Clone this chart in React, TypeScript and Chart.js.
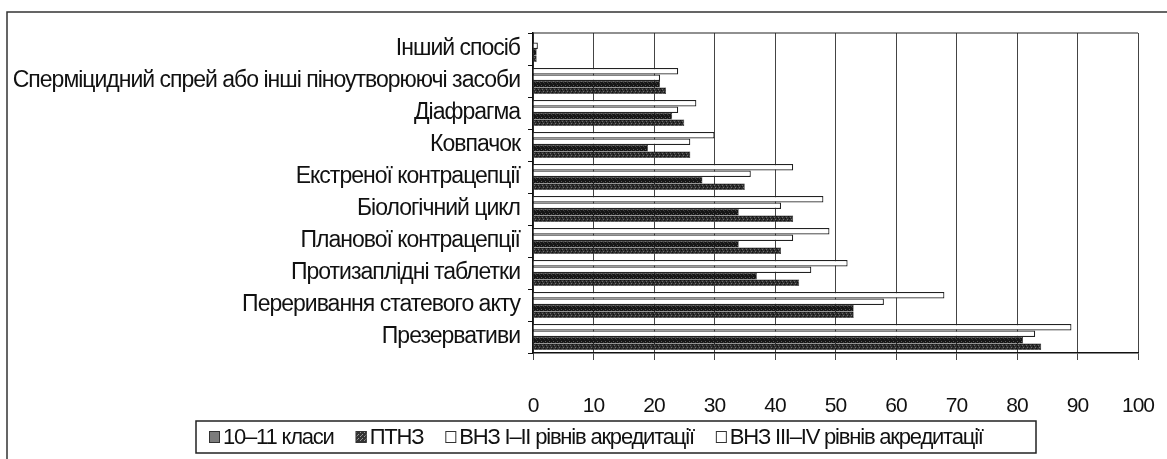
import React, { useEffect, useRef } from 'react';
import { Chart, registerables } from 'chart.js';

Chart.register(...registerables);

// Categories, listed top to bottom as they appear in the chart
const categories = [
  'Інший спосіб',
  'Сперміцидний спрей або інші піноутворюючі засоби',
  'Діафрагма',
  'Ковпачок',
  'Екстреної контрацепції',
  'Біологічний цикл',
  'Планової контрацепції',
  'Протизаплідні таблетки',
  'Переривання статевого акту',
  'Презервативи',
];

const seriesNames = [
  '10–11 класи',
  'ПТНЗ',
  'ВНЗ І–ІІ рівнів акредитації',
  'ВНЗ ІІІ–IV рівнів акредитації',
];

const school1011 = [0.6, 22, 25, 26, 35, 43, 41, 44, 53, 84];
const ptnz = [0.6, 21, 23, 19, 28, 34, 34, 37, 53, 81];
const vnz12 = [0.8, 21, 24, 26, 36, 41, 43, 46, 58, 83];
const vnz34 = [0, 24, 27, 30, 43, 48, 49, 52, 68, 89];

const xTickValues = [0, 10, 20, 30, 40, 50, 60, 70, 80, 90, 100];

const FONT = "'Liberation Sans', Arial, sans-serif";

function makePattern(base: string, pixels: [number, number, string][]) {
  const c = document.createElement('canvas');
  c.width = 4;
  c.height = 4;
  const g = c.getContext('2d')!;
  g.fillStyle = base;
  g.fillRect(0, 0, 4, 4);
  for (const [x, y, col] of pixels) {
    g.fillStyle = col;
    g.fillRect(x, y, 1, 1);
  }
  return g.createPattern(c, 'repeat')!;
}

export default function App() {
  const ref = useRef<HTMLCanvasElement | null>(null);

  useEffect(() => {
    if (!ref.current) return;
    const schoolPat = makePattern('#2e2e2e', [
      [0, 0, '#111'], [2, 1, '#6a6a6a'], [1, 2, '#0c0c0c'], [3, 3, '#707070'],
    ]);
    const ptnzPat = makePattern('#161616', [
      [1, 1, '#5a5a5a'], [3, 2, '#444'], [0, 3, '#333'],
    ]);

    const legendSwatches: Record<string, any> = {
      [seriesNames[0]]: '#7c7c7c',
      [seriesNames[1]]: makePattern('#333', [[0, 0, '#999'], [2, 2, '#999'], [1, 3, '#888']]),
      [seriesNames[2]]: '#ffffff',
      [seriesNames[3]]: '#ffffff',
    };

    const framePlugin = {
      id: 'frame',
      beforeDraw(chart: any) {
        const ctx = chart.ctx;
        ctx.letterSpacing = '-1px';
        ctx.save();
        ctx.fillStyle = '#fff';
        ctx.fillRect(0, 0, chart.width, chart.height);
        ctx.strokeStyle = '#333';
        ctx.lineWidth = 1.5;
        ctx.beginPath();
        ctx.moveTo(7, chart.height + 5);
        ctx.lineTo(7, 12);
        ctx.lineTo(chart.width + 5, 12);
        ctx.stroke();
        ctx.restore();
      },
      afterDraw(chart: any) {
        const ctx = chart.ctx;
        const a = chart.chartArea;
        ctx.save();
        ctx.strokeStyle = '#222';
        ctx.lineWidth = 1.2;
        ctx.beginPath();
        ctx.moveTo(a.left, a.top);
        ctx.lineTo(a.right, a.top);
        ctx.stroke();

        // boxed legend
        const x0 = 196, y0 = 421, w = 840, h = 32;
        ctx.strokeStyle = '#222';
        ctx.lineWidth = 1.5;
        ctx.strokeRect(x0, y0, w, h);
        ctx.font = `22px ${FONT}`;
        ctx.textBaseline = 'middle';
        ctx.textAlign = 'left';
        ctx.letterSpacing = '-1.2px';
        const cy = y0 + h / 2;
        let x = x0 + 13;
        for (const name of seriesNames) {
          ctx.fillStyle = legendSwatches[name];
          ctx.fillRect(x, cy - 6, 11, 12);
          ctx.strokeStyle = '#333';
          ctx.lineWidth = 1;
          ctx.strokeRect(x + 0.5, cy - 5.5, 10, 11);
          ctx.fillStyle = '#111';
          ctx.fillText(name, x + 14, cy + 1);
          x += 14 + ctx.measureText(name).width + 22;
        }
        ctx.restore();
      },
    };

    const chart = new Chart(ref.current, {
      type: 'bar',
      data: {
        labels: categories,
        datasets: [
          { label: seriesNames[3], data: vnz34, backgroundColor: '#fff', borderColor: '#222', borderWidth: 1.2 },
          { label: seriesNames[2], data: vnz12, backgroundColor: '#fff', borderColor: '#222', borderWidth: 1.2 },
          { label: seriesNames[1], data: ptnz, backgroundColor: ptnzPat, borderColor: '#111', borderWidth: 0.5 },
          { label: seriesNames[0], data: school1011, backgroundColor: schoolPat, borderColor: '#111', borderWidth: 0.5 },
        ],
      },
      plugins: [framePlugin],
      options: {
        indexAxis: 'y',
        animation: false,
        responsive: true,
        maintainAspectRatio: false,
        layout: { padding: { left: 0, top: 33, right: 29, bottom: 0 } },
        datasets: { bar: { categoryPercentage: 0.81, barPercentage: 1, borderSkipped: 'start' } },
        plugins: { legend: { display: false }, tooltip: { enabled: false } },
        scales: {
          x: {
            type: 'linear',
            min: 0,
            max: 100,
            afterBuildTicks: (scale: any) => {
              scale.ticks = xTickValues.map((v) => ({ value: v }));
            },
            afterFit: (scale: any) => {
              scale.height = 106;
              scale.paddingLeft = 0;
              scale.paddingRight = 0;
            },
            ticks: { font: { size: 21, family: FONT }, color: '#111', padding: 34 },
            grid: { color: '#444', lineWidth: 1, tickLength: 7 },
            border: { display: true, color: '#111', width: 1.5 },
          },
          y: {
            type: 'category',
            afterFit: (scale: any) => {
              scale.width = 533;
              scale.paddingTop = 0;
              scale.paddingBottom = 0;
            },
            ticks: { font: { size: 23, family: FONT }, color: '#111', padding: 8, autoSkip: false },
            grid: { display: true, drawOnChartArea: false, color: '#111', tickLength: 5, offset: true },
            border: { display: true, color: '#111', width: 1.5 },
          },
        },
      },
    });
    return () => chart.destroy();
  }, []);

  return (
    <div style={{ position: 'fixed', left: 0, top: 0, width: 1167, height: 459, background: '#fff' }}>
      <canvas ref={ref} />
    </div>
  );
}
